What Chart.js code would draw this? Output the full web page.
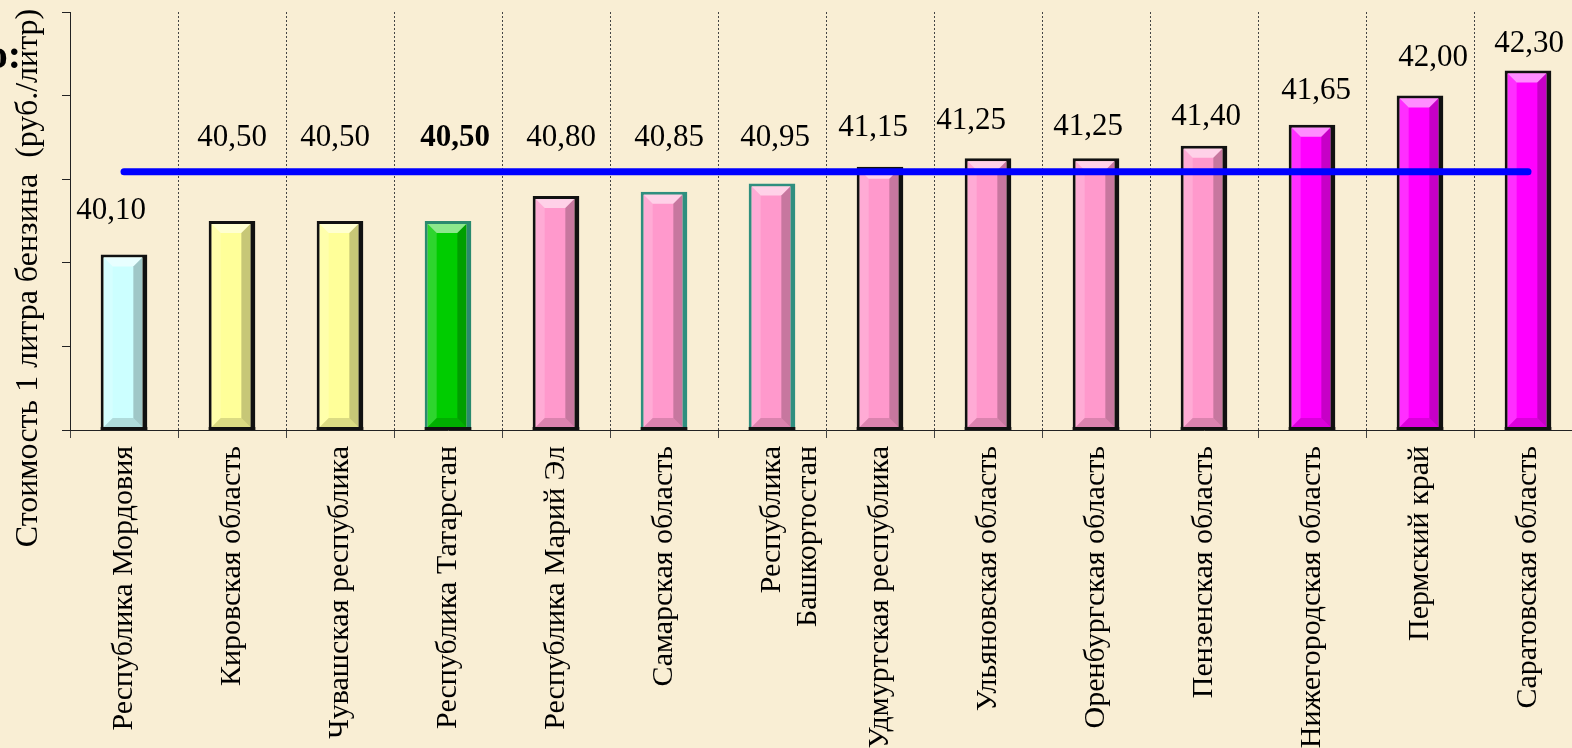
<!DOCTYPE html>
<html>
<head>
<meta charset="utf-8">
<script src="https://cdn.jsdelivr.net/npm/chart.js@4/dist/chart.umd.min.js"></script>
<style>
  html, body { margin: 0; padding: 0; overflow: hidden; background: #f9eed4; }
  #wrap { width: 1582px; height: 748px; }
</style>
</head>
<body>
<div id="wrap"><canvas id="fuelChart" width="1582" height="748"></canvas></div>
<script>
// Стоимость 1 литра бензина по регионам
const regions = [
    'Республика Мордовия', 'Кировская область', 'Чувашская республика',
    'Республика Татарстан', 'Республика Марий Эл', 'Самарская область',
    ['Республика', 'Башкортостан'], 'Удмуртская республика', 'Ульяновская область',
    'Оренбургская область', 'Пензенская область', 'Нижегородская область',
    'Пермский край', 'Саратовская область'
];
const prices = [40.10, 40.50, 40.50, 40.50, 40.80, 40.85, 40.95, 41.15, 41.25, 41.25, 41.40, 41.65, 42.00, 42.30];
const averagePrice = 41.09;
const yTicks = [38, 39, 40, 41, 42, 43];
const yTitle = 'Стоимость 1 литра бензина  (руб./литр)';

// цвета столбцов
const barColors = ['#ccffff', '#ffff99', '#ffff99', '#00cc00', '#ff99cc', '#ff99cc', '#ff99cc',
    '#ff99cc', '#ff99cc', '#ff99cc', '#ff99cc', '#ff00ff', '#ff00ff', '#ff00ff'];
const barBorders = ['#111', '#111', '#111', '#2a8a6e', '#111', '#2f8f7f', '#2f8f7f',
    '#111', '#111', '#111', '#111', '#111', '#111', '#111'];
// подписи значений сдвинуты вручную, как на слайде
const labelLift = [44, 83, 83, 83, 58, 54, 46, 39, 37, 31, 29, 34, 38, 27];
const labelShift = [-13, 0, -5, 7, 5, 5, 3, -7, -17, -8, 2, 4, 13, 1];

const serif = '"Liberation Serif", "Times New Roman", serif';

const fondo = {
    id: 'fondo',
    beforeDraw(chart) {
        const ctx = chart.ctx;
        ctx.save();
        ctx.fillStyle = '#f9eed4';
        ctx.fillRect(0, 0, chart.width, chart.height);
        ctx.restore();
    }
};

// эффект объёма у столбцов
const bisel = {
    id: 'bisel',
    afterDatasetDraw(chart, args) {
        if (args.index !== 0) return;
        const ctx = chart.ctx;
        const area = chart.chartArea;
        args.meta.data.forEach(bar => {
            const p = bar.getProps(['x', 'y', 'base', 'width'], true);
            const l = p.x - p.width / 2 + 3, r = p.x + p.width / 2 - 5;
            const t = p.y + 3, b = Math.min(p.base, area.bottom) - 3, e = 9;
            const poly = (pts, fill) => {
                ctx.beginPath();
                ctx.moveTo(pts[0][0], pts[0][1]);
                pts.slice(1).forEach(q => ctx.lineTo(q[0], q[1]));
                ctx.closePath();
                ctx.fillStyle = fill;
                ctx.fill();
            };
            ctx.save();
            poly([[l, t], [r, t], [r - e, t + e], [l + e, t + e]], 'rgba(255,255,255,0.55)');
            poly([[l, t], [l + e, t + e], [l + e, b - e], [l, b]], 'rgba(255,255,255,0.18)');
            poly([[r, t], [r, b], [r - e, b - e], [r - e, t + e]], 'rgba(0,0,0,0.22)');
            poly([[l, b], [r, b], [r - e, b - e], [l + e, b - e]], 'rgba(0,0,0,0.14)');
            // нижняя кромка столбца
            ctx.strokeStyle = '#111';
            ctx.lineWidth = 3;
            ctx.beginPath();
            ctx.moveTo(l - 3, b + 1.5);
            ctx.lineTo(r + 5, b + 1.5);
            ctx.stroke();
            ctx.restore();
        });
    },
    afterDatasetsDraw(chart) {
        const ctx = chart.ctx;
        const meta = chart.getDatasetMeta(0);
        ctx.save();
        ctx.fillStyle = '#000';
        ctx.textAlign = 'center';
        ctx.textBaseline = 'middle';
        meta.data.forEach((bar, i) => {
            ctx.font = (i === 3 ? 'bold ' : '') + '31px ' + serif;
            const txt = prices[i].toFixed(2).replace('.', ',');
            ctx.fillText(txt, bar.x + labelShift[i], bar.y - labelLift[i]);
        });
        // подпись оси Y
        ctx.save();
        ctx.translate(29, 278);
        ctx.rotate(-Math.PI / 2);
        ctx.font = '32px ' + serif;
        ctx.fillText(yTitle, 0, 0);
        ctx.restore();
        // обрезанный заголовок слайда
        ctx.font = 'bold 40px ' + serif;
        ctx.textAlign = 'right';
        ctx.textBaseline = 'alphabetic';
        ctx.fillText('о:', 21, 68);
        ctx.restore();
    }
};

const ctx = document.getElementById('fuelChart').getContext('2d');
const chart = new Chart(ctx, {
    data: {
        labels: regions,
        datasets: [{
            type: 'bar',
            order: 1,
            data: prices,
            backgroundColor: barColors,
            borderColor: barBorders,
            borderWidth: { left: 3, top: 3, right: 5, bottom: 3 },
            borderSkipped: false,
            barPercentage: 0.9,
            categoryPercentage: 0.48
        }, {
            type: 'line',
            order: 0,
            data: regions.map(() => averagePrice),
            borderColor: '#0000ff',
            borderWidth: 7,
            borderCapStyle: 'round',
            pointRadius: 0,
            fill: false
        }]
    },
    options: {
        responsive: false,
        animation: false,
        layout: { padding: { top: 12, left: 0, right: 0, bottom: 0 } },
        plugins: {
            legend: { display: false },
            tooltip: { enabled: false }
        },
        scales: {
            x: {
                offset: true,
                grid: { offset: true, color: '#444', lineWidth: 1, tickLength: 8, drawOnChartArea: true },
                border: { display: true, color: '#222', width: 1, dash: [2, 2] },
                ticks: {
                    autoSkip: false,
                    maxRotation: 90,
                    minRotation: 90,
                    padding: 8,
                    color: '#000',
                    font: { family: serif, size: 30 }
                },
                afterFit(scale) { scale.height = 318; }
            },
            y: {
                min: 38,
                max: 43,
                afterBuildTicks(scale) { scale.ticks = yTicks.map(v => ({ value: v })); },
                grid: { drawOnChartArea: false, color: '#222', tickLength: 8 },
                border: { display: true, color: '#222', width: 1 },
                ticks: { display: false },
                afterFit(scale) { scale.width = 70; }
            }
        }
    },
    plugins: [fondo, bisel]
});
</script>
</body>
</html>
